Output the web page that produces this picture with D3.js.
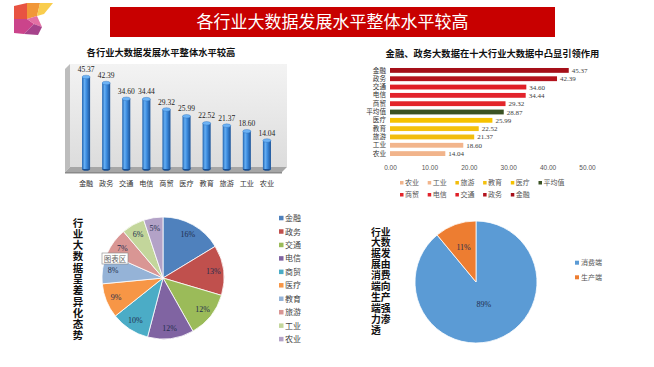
<!DOCTYPE html>
<html><head><meta charset="utf-8">
<script src="https://cdn.jsdelivr.net/npm/d3@7"></script>
<style>
body{margin:0;background:#fff;position:relative;width:654px;height:367px;overflow:hidden;}
svg{display:block;}
.vt{position:absolute;font-family:'Noto Sans CJK SC','Noto Sans',sans-serif;font-weight:bold;color:#111;word-break:break-all;margin:0;padding:0;}
</style>
</head><body>
<script>
// ---------- data ----------
const categories = ["金融","政务","交通","电信","商贸","医疗","教育","旅游","工业","农业"];
const values = [45.37,42.39,34.60,34.44,29.32,25.99,22.52,21.37,18.60,14.04];
const hCategories = ["金融","政务","交通","电信","商贸","平均值","医疗","教育","旅游","工业","农业"];
const hValues = [45.37,42.39,34.60,34.44,29.32,28.87,25.99,22.52,21.37,18.60,14.04];
const hTicks = [0,10,20,30,40,50];
const legendRow1 = ["农业","工业","旅游","教育","医疗","平均值"];
const legendRow2 = ["商贸","电信","交通","政务","金融"];
const pieShares = [16,13,12,12,10,9,8,7,6,5];
const pie2Labels = ["消费端","生产端"];
const pie2Values = [89,11];
const mainTitle = "各行业大数据发展水平整体水平较高";
const chart1Title = "各行业大数据发展水平整体水平较高";
const chart2Title = "金融、政务大数据在十大行业大数据中凸显引领作用";
const side1Title = "行业大数据呈差异化态势";
const side2Title = "行业大数据发展由消费端向生产端强力渗透";

const hColors = {"金融":"#a50f19","政务":"#b3131d","交通":"#e01f27","电信":"#e2232c","商贸":"#e3252a",
  "平均值":"#3a5224","医疗":"#f6c200","教育":"#f4c10e","旅游":"#f2bd0d","工业":"#f2b58c","农业":"#f1b48b"};
const pieColors = ["#4f81bd","#c0504d","#9bbb59","#8064a2","#4bacc6","#f79646","#95b3d7","#d99694","#c3d69b","#b3a2c7"];
const pie2Colors = ["#5b9bd5","#ed7d31"];

const CJK = "'Noto Sans CJK SC','Noto Sans',sans-serif";
const SERIF = "'Liberation Serif','DejaVu Serif',serif";
const SANS = "'Liberation Sans',Arial,sans-serif";

const svg = d3.select("body").append("svg").attr("width",654).attr("height",367);
const defs = svg.append("defs");

// ---------- logo ----------
const logo = svg.append("g");
const logoPolys = [
  {p:[[14,6],[27,3],[27,19],[14,19]], c:"#e6402e"},
  {p:[[27,3],[40,3],[37,16],[27,19]], c:"#f08c22"},
  {p:[[40,3],[53,3],[44,14],[37,16]], c:"#f8c83a"},
  {p:[[14,19],[27,19],[34,24],[24,34],[14,33]], c:"#c5307e"},
  {p:[[27,19],[37,16],[42,27],[34,24]], c:"#e0609a"},
  {p:[[34,24],[42,27],[38,35],[24,34]], c:"#9c2f7e"}
];
logoPolys.forEach(d=>logo.append("polygon").attr("points",d.p.map(q=>q.join(",")).join(" ")).attr("fill",d.c).attr("opacity",0.9));

// ---------- banner ----------
svg.append("rect").attr("x",110).attr("y",7).attr("width",445).attr("height",30).attr("fill","#c80000");
svg.append("text").attr("x",332.5).attr("y",28).attr("text-anchor","middle")
  .attr("font-family",CJK).attr("font-size",17).attr("fill","#fff").text(mainTitle);

// ---------- chart 1 : 3D cylinders ----------
const g1 = svg.append("g");
g1.append("text").attr("x",161).attr("y",55.5).attr("text-anchor","middle").attr("font-family",CJK)
  .attr("font-weight","bold").attr("font-size",9.3).attr("fill","#111").text(chart1Title);
const wallGrad = defs.append("linearGradient").attr("id","wall").attr("x1",0).attr("y1",0).attr("x2",0).attr("y2",1);
wallGrad.append("stop").attr("offset","0%").attr("stop-color","#f3f3f3");
wallGrad.append("stop").attr("offset","100%").attr("stop-color","#dcdcdc");
g1.append("rect").attr("x",70).attr("y",64).attr("width",217).attr("height",103).attr("fill","url(#wall)");
g1.append("polygon").attr("points","65,69 70,64 70,167 65,172").attr("fill","#bdbdbd");
g1.append("polygon").attr("points","65,172 282,172 287,167 70,167").attr("fill","#a6a6a6");
g1.append("rect").attr("x",65).attr("y",172).attr("width",217).attr("height",1.5).attr("fill","#8a8a8a");

const x1 = d3.scaleBand().domain(categories).range([70,283]).padding(0.6);
const y1 = d3.scaleLinear().domain([0,50]).range([169,67.6]);
const cylGrad = defs.append("linearGradient").attr("id","cyl").attr("x1",0).attr("y1",0).attr("x2",1).attr("y2",0);
[["0%","#1f62ae"],["30%","#65aef3"],["55%","#3d8de0"],["100%","#1c5398"]].forEach(s=>cylGrad.append("stop").attr("offset",s[0]).attr("stop-color",s[1]));
const bars1 = g1.selectAll("g.cyl").data(categories).join("g");
bars1.each(function(c,i){
  const g = d3.select(this);
  const bw = x1.bandwidth(), cx = x1(c)+bw/2, top = y1(values[i]), base = y1(0);
  g.append("ellipse").attr("cx",cx).attr("cy",base).attr("rx",bw/2).attr("ry",1.8).attr("fill","#1a4f91");
  g.append("rect").attr("x",x1(c)).attr("y",top).attr("width",bw).attr("height",base-top).attr("fill","url(#cyl)");
  g.append("ellipse").attr("cx",cx).attr("cy",top).attr("rx",bw/2).attr("ry",1.8).attr("fill","#6db3f5").attr("stroke","#2a6cb8").attr("stroke-width",0.4);
  g.append("text").attr("x",cx).attr("y",top-5).attr("text-anchor","middle").attr("font-family",SERIF)
    .attr("font-size",7.5).attr("fill","#222").text(values[i].toFixed(2));
  g.append("text").attr("x",cx).attr("y",186).attr("text-anchor","middle").attr("font-family",CJK)
    .attr("font-size",7.2).attr("fill","#333").text(c);
});

// ---------- chart 2 : horizontal bars ----------
const g2 = svg.append("g");
g2.append("text").attr("x",492.5).attr("y",56.5).attr("text-anchor","middle").attr("font-family",CJK)
  .attr("font-weight","bold").attr("font-size",9.3).attr("fill","#111").text(chart2Title);
const x2 = d3.scaleLinear().domain([0,50]).range([390,587]);
const y2 = d3.scaleBand().domain(hCategories).range([64.5,159.5]).padding(0.42);
g2.selectAll("rect.hb").data(hCategories).join("rect").attr("class","hb")
  .attr("x",x2(0)).attr("y",d=>y2(d)).attr("height",y2.bandwidth())
  .attr("width",(d,i)=>x2(hValues[i])-x2(0)).attr("fill",d=>hColors[d]);
g2.selectAll("text.hv").data(hCategories).join("text").attr("class","hv")
  .attr("x",(d,i)=>x2(hValues[i])+3).attr("y",d=>y2(d)+y2.bandwidth()/2+2.5)
  .attr("font-family",SERIF).attr("font-size",7).attr("fill","#404040").text((d,i)=>hValues[i].toFixed(2));
const yAx2 = g2.append("g").attr("transform","translate(386,0)")
  .call(d3.axisLeft(y2).tickSize(0).tickPadding(0));
yAx2.select(".domain").remove();
yAx2.selectAll("text").attr("font-family",CJK).attr("font-size",6.6).attr("fill","#333");
const xAx2 = g2.append("g").attr("transform","translate(0,162)")
  .call(d3.axisBottom(x2).tickValues(hTicks).tickSize(0).tickPadding(3).tickFormat(d3.format(".2f")));
xAx2.select(".domain").remove();
xAx2.selectAll("text").attr("font-family",SANS).attr("font-size",6.5).attr("fill","#555");
const leg2 = g2.append("g");
[legendRow1,legendRow2].forEach((row,ri)=>{
  row.forEach((c,i)=>{
    const lx = 400 + i*27.7, ly = 183 + ri*12;
    leg2.append("rect").attr("x",lx).attr("y",ly-2).attr("width",3.5).attr("height",3.5).attr("fill",hColors[c]);
    leg2.append("text").attr("x",lx+5).attr("y",ly+2.3).attr("font-family",CJK).attr("font-size",7).attr("fill","#555").text(c);
  });
});

// ---------- chart 3 : pie ----------
const g3 = svg.append("g");
d3.select("body").append("div").attr("class","vt")
  .style("left","72px").style("top","216.5px").style("width","12px").style("text-align","center")
  .style("font-size","10.5px").style("line-height","11.3px").text(side1Title);
const pie1 = d3.pie().sort(null).value(d=>d)(pieShares);
const r1 = 61, c1 = [163,278];
const arc1 = d3.arc().innerRadius(0).outerRadius(r1);
const lab1 = d3.arc().innerRadius(r1*0.83).outerRadius(r1*0.83);
const pg1 = g3.append("g").attr("transform",`translate(${c1[0]},${c1[1]})`);
pg1.selectAll("path").data(pie1).join("path").attr("d",arc1).attr("fill",(d,i)=>pieColors[i]).attr("stroke","#fff").attr("stroke-width",0.8);
pg1.selectAll("text").data(pie1).join("text").attr("transform",d=>`translate(${lab1.centroid(d)})`)
  .attr("text-anchor","middle").attr("dy","0.35em").attr("font-family",SERIF).attr("font-size",8)
  .attr("fill","#1f2d4d").text(d=>d.data+"%");
// tooltip box
g3.append("rect").attr("x",102).attr("y",253).attr("width",26).attr("height",11).attr("fill","#fff").attr("stroke","#888").attr("stroke-width",0.6);
g3.append("text").attr("x",115).attr("y",261.5).attr("text-anchor","middle").attr("font-family",CJK).attr("font-size",7.5).attr("fill","#666").text("图表区");
categories.forEach((c,i)=>{
  const ly = 218.3 + i*13.45;
  g3.append("rect").attr("x",279).attr("y",ly-2.5).attr("width",4.5).attr("height",4.5).attr("fill",pieColors[i]);
  g3.append("text").attr("x",285).attr("y",ly+2.8).attr("font-family",CJK).attr("font-size",8).attr("fill","#444").text(c);
});

// ---------- chart 4 : pie ----------
const g4 = svg.append("g");
d3.select("body").append("div").attr("class","vt")
  .style("left","371px").style("top","226.5px").style("width","20px")
  .style("font-size","9.8px").style("line-height","10.9px").text(side2Title);
const pie2 = d3.pie().sort(null).value(d=>d)(pie2Values);
const r2 = 61, c2 = [476,282];
const arc2 = d3.arc().innerRadius(0).outerRadius(r2);
const labR = [0.38,0.6];
const pg2 = g4.append("g").attr("transform",`translate(${c2[0]},${c2[1]})`);
pg2.selectAll("path").data(pie2).join("path").attr("d",arc2).attr("fill",(d,i)=>pie2Colors[i]).attr("stroke","#fff").attr("stroke-width",0.8);
pg2.selectAll("text").data(pie2).join("text")
  .attr("transform",(d,i)=>`translate(${d3.arc().innerRadius(r2*labR[i]).outerRadius(r2*labR[i]).centroid(d)})`)
  .attr("text-anchor","middle").attr("dy","0.35em").attr("font-family",SERIF).attr("font-size",8)
  .attr("fill","#1f2d4d").text(d=>d.data+"%");
pie2Labels.forEach((c,i)=>{
  const ly = 262.7 + i*14.6;
  g4.append("rect").attr("x",575).attr("y",ly-2).attr("width",4).attr("height",4).attr("fill",pie2Colors[i]);
  g4.append("text").attr("x",581).attr("y",ly+2.5).attr("font-family",CJK).attr("font-size",7).attr("fill","#555").text(c);
});
</script>
</body></html>
